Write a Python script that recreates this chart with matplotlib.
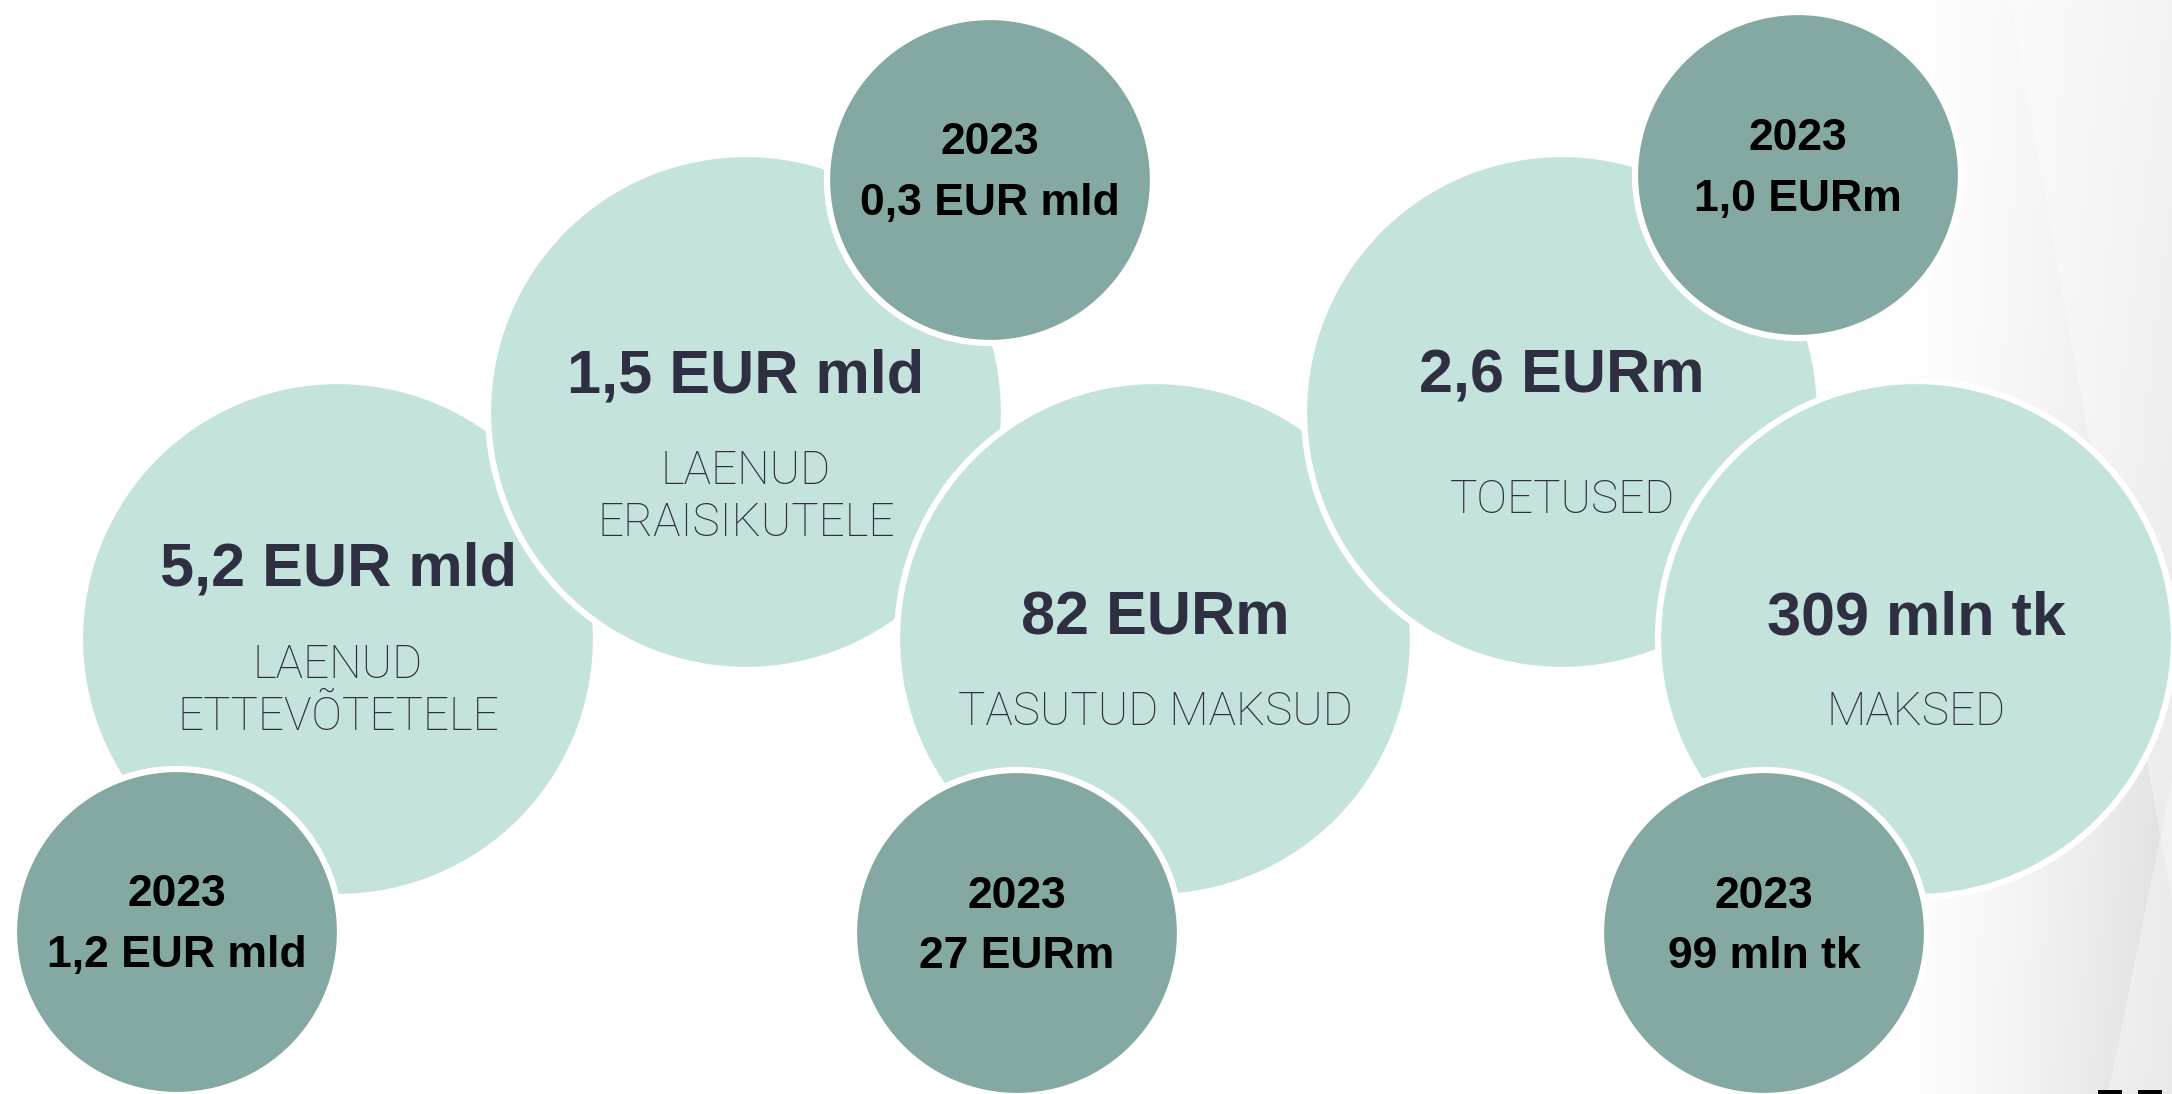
import numpy as np
import matplotlib
matplotlib.use("Agg")
import matplotlib.pyplot as plt
from matplotlib.patches import Circle, Rectangle, Polygon

# data
main_values = ["5,2 EUR mld", "1,5 EUR mld", "82 EURm", "2,6 EURm", "309 mln tk"]
categories = [["LAENUD", "ETTEVÕTETELE"], ["LAENUD", "ERAISIKUTELE"],
              ["TASUTUD MAKSUD"], ["TOETUSED"], ["MAKSED"]]
prev_year = "2023"
prev_values = ["1,2 EUR mld", "0,3 EUR mld", "27 EURm", "1,0 EURm", "99 mln tk"]

# layout (pixel coordinates of the 2172x1094 canvas)
W, H = 2172, 1094
big_xy = [(338, 639), (746, 412), (1155, 639), (1562, 412), (1916, 639)]
small_xy = [(177, 932), (990, 180), (1017, 933), (1798, 175), (1764, 933)]
big_r, small_r = 258, 163
value_y = [570, 377, 619, 377, 619]
label_y = [691, 497, 712, 500, 712]
line_gap = 53

LIGHT = "#c4e3dd"
DARK = "#84a8a2"
NAVY = "#2f2f42"

fig = plt.figure(figsize=(W / 100, H / 100), dpi=100)
ax = fig.add_axes([0, 0, 1, 1])
ax.set_xlim(0, W)
ax.set_ylim(H, 0)
ax.axis("off")

# grey background fading in on the right
xx, yy = np.meshgrid(np.arange(W), np.arange(H))
t = np.clip((xx - 1880) / (W - 1880), 0, 1) ** 1.4
g = 1 - 0.13 * t * (0.55 + 0.45 * yy / H)
bg = np.dstack([g, g, g * 1.005]).clip(0, 1)
ax.imshow(bg, extent=[0, W, H, 0], zorder=0, interpolation="bilinear")
ax.add_patch(Polygon([(2010, 0), (2172, 0), (2172, 900)], closed=True,
                     facecolor="white", alpha=0.35, lw=0, zorder=0.5))
ax.add_patch(Polygon([(2108, H), (2172, 780), (2172, H)], closed=True,
                     facecolor="white", alpha=0.35, lw=0, zorder=0.5))
ax.add_patch(Rectangle((2098, 1090), 24, 6, facecolor="black", lw=0, zorder=5))
ax.add_patch(Rectangle((2138, 1090), 24, 6, facecolor="black", lw=0, zorder=5))

num_font = dict(family=["Liberation Sans", "DejaVu Sans"], weight="bold")
lab_font = dict(family=["Roboto", "DejaVu Sans"], weight="light")

for i, (x, y) in enumerate(big_xy):
    ax.add_patch(Circle((x, y), big_r, facecolor=LIGHT, edgecolor="white",
                        lw=4.5, zorder=2 + i * 0.1))
    ax.text(x, value_y[i], main_values[i], ha="center", va="center",
            fontsize=44, color=NAVY, zorder=4, **num_font)
    lines = categories[i]
    y0 = label_y[i] - (len(lines) - 1) * line_gap / 2
    for k, line in enumerate(lines):
        ax.text(x, y0 + k * line_gap, line, ha="center", va="center",
                fontsize=33, color=NAVY, zorder=4, **lab_font)

for i, (x, y) in enumerate(small_xy):
    ax.add_patch(Circle((x, y), small_r, facecolor=DARK, edgecolor="white",
                        lw=4.5, zorder=3))
    ax.text(x, y - 37, prev_year, ha="center", va="center",
            fontsize=32, color="black", zorder=4, **num_font)
    ax.text(x, y + 24, prev_values[i], ha="center", va="center",
            fontsize=32, color="black", zorder=4, **num_font)

fig.savefig("out.png", dpi=100)
